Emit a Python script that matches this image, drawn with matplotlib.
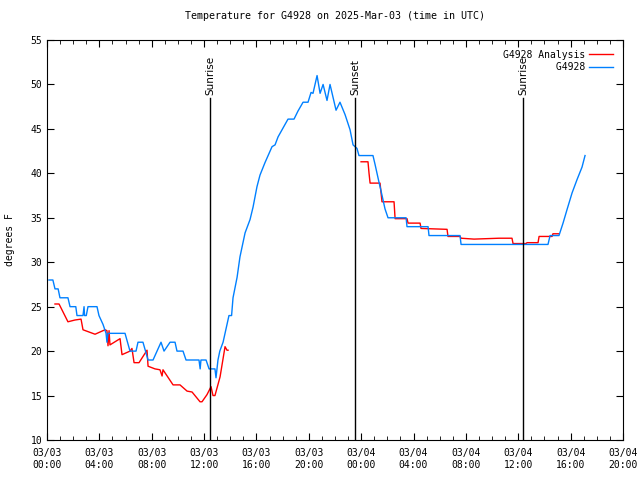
import numpy as np
import pandas as pd
import matplotlib
matplotlib.use("Agg")
import matplotlib.pyplot as plt
import matplotlib.dates as mdates

# hours since 2025-03-03 00:00 UTC, temperature in F
obs_hours = [0.15, 0.45, 0.61, 0.85, 0.99, 1.6, 1.76, 2.2, 2.29, 2.75, 2.83, 2.87, 3.0, 3.13,
             3.82, 3.97, 4.28, 4.51, 4.58, 4.66, 5.96, 6.34, 6.8, 6.95, 7.33, 7.72, 8.10, 8.71,
             8.94, 9.40, 9.78, 9.93, 10.39, 10.62, 11.61, 11.7, 11.76, 12.15, 12.38, 12.83,
             12.91, 13.06, 13.2, 13.45, 13.6, 13.75, 13.9, 14.1, 14.21, 14.52, 14.74, 15.13,
             15.51, 15.74, 16.04, 16.27, 16.65, 17.19, 17.42, 17.65, 18.03, 18.41, 18.87, 19.17,
             19.56, 19.94, 20.17, 20.32, 20.63, 20.86, 21.09, 21.39, 21.62, 22.08, 22.38, 22.77,
             23.15, 23.38, 23.68, 23.83, 24.90, 25.06, 25.21, 25.36, 25.52, 25.67, 25.82, 26.05,
             27.43, 27.50, 29.11, 29.18, 31.55, 31.63, 38.27, 38.43, 39.11, 39.42, 39.72, 40.11,
             40.49, 40.87, 41.1]
obs_temp = [28, 28, 27, 27, 26, 26, 25, 25, 24, 24, 25, 24, 24, 25,
            25, 24, 23, 22, 21, 22, 22, 20, 20, 21, 21, 19, 19, 21,
            20, 21, 21, 20, 20, 19, 19, 18, 19, 19, 18, 18,
            17, 19, 20, 21, 22, 23, 24, 24, 26, 28.3, 30.6, 33.3,
            34.8, 36.2, 38.5, 39.8, 41.2, 43, 43.2, 44.1, 45.1, 46.1, 46.1, 47,
            48, 48, 49.1, 49, 51, 49, 50, 48.2, 50, 47.1, 48, 46.6,
            44.9, 43.2, 42.8, 42, 42, 41, 40, 39, 38, 37, 36, 35,
            35, 34, 34, 33, 33, 32, 32, 33, 33, 34.4, 35.9, 37.8,
            39.3, 40.7, 42]

ana_hours = [0.61, 0.92, 1.60, 2.14, 2.60, 2.75, 3.67, 4.43, 4.58, 4.66, 4.74, 4.81, 5.58,
             5.73, 6.34, 6.49, 6.65, 7.03, 7.64, 7.72, 8.25, 8.63, 8.79, 8.86, 9.63, 10.16,
             10.70, 11.08, 11.69, 11.84, 12.22, 12.53, 12.68, 12.83, 13.22, 13.60, 13.75, 13.83,
             np.nan,
             23.99, 24.52, 24.60, 24.68, 25.44, 25.59, 26.51, 26.59, 27.50, 27.58, 28.50, 28.57,
             30.56, 30.63, 31.55, 31.63, 32.62, 34.53, 35.52, 35.60, 36.59, 36.67, 37.51, 37.59,
             38.58, 38.65, 39.11]
ana_temp = [25.3, 25.3, 23.3, 23.5, 23.6, 22.4, 21.9, 22.4, 22.3, 20.6, 22.3, 20.7, 21.4,
            19.6, 20, 20.3, 18.7, 18.7, 20.1, 18.3, 18, 17.9, 17.2, 17.9, 16.2, 16.2,
            15.5, 15.4, 14.3, 14.3, 15.1, 16, 15, 15, 17.1, 20.5, 20.1, 20.1,
            np.nan,
            41.3, 41.3, 40, 38.9, 38.9, 36.8, 36.8, 34.9, 34.9, 34.4, 34.4, 33.8,
            33.7, 32.9, 32.9, 32.7, 32.6, 32.7, 32.7, 32.1, 32.1, 32.2, 32.2, 32.9,
            32.9, 33.2, 33.2]

sun_hours = [12.45, 23.53, 36.36]
sun_labels = ["Sunrise", "Sunset", "Sunrise"]

start = pd.Timestamp("2025-03-03 00:00")
def to_time(h):
    return start + pd.to_timedelta(np.array(h, dtype=float), unit="h")

plt.rcParams['font.family'] = ['DejaVu Sans Mono']
plt.rcParams['font.size'] = 7

fig = plt.figure(figsize=(6.4, 4.8), dpi=100)
ax = fig.add_axes([47/640, 40/480, 576/640, 400/480])

ax.plot(to_time(ana_hours), ana_temp, color='#ff0000', lw=1)
ax.plot(to_time(obs_hours), obs_temp, color='#0080ff', lw=1)

for h, lab in zip(sun_hours, sun_labels):
    t = to_time([h])[0]
    ax.axvline(t, ymin=0, ymax=0.855, color='black', lw=1)
    ax.text(t, 48.8, lab, rotation=90, ha='center', va='bottom', fontsize=7.5,
            family='DejaVu Sans')

ax.set_xlim(start, start + pd.Timedelta(hours=44))
ax.set_ylim(10, 55)
ax.set_yticks(range(10, 56, 5))
ax.xaxis.set_major_locator(mdates.HourLocator(byhour=range(0, 24, 4)))
ax.xaxis.set_minor_locator(mdates.HourLocator())
ax.xaxis.set_major_formatter(mdates.DateFormatter('%m/%d\n%H:%M'))
ax.tick_params(which='both', direction='in', top=True, right=True, labelsize=7)
ax.tick_params(which='major', length=5)
ax.tick_params(which='minor', length=3)
ax.tick_params(axis='x', pad=6)

ax.set_title("Temperature for G4928 on 2025-Mar-03 (time in UTC)", fontsize=7.2, pad=15)
ax.set_ylabel("degrees F", fontsize=7, labelpad=11)

# legend in gnuplot style: text right aligned, sample on the right
leg = ax.legend(["G4928 Analysis", "         G4928"], loc='upper right', frameon=False,
                markerfirst=False, handlelength=2.5, handletextpad=0.4,
                borderaxespad=0.6, labelspacing=0.25, fontsize=7)

fig.savefig("out.png", dpi=100)
